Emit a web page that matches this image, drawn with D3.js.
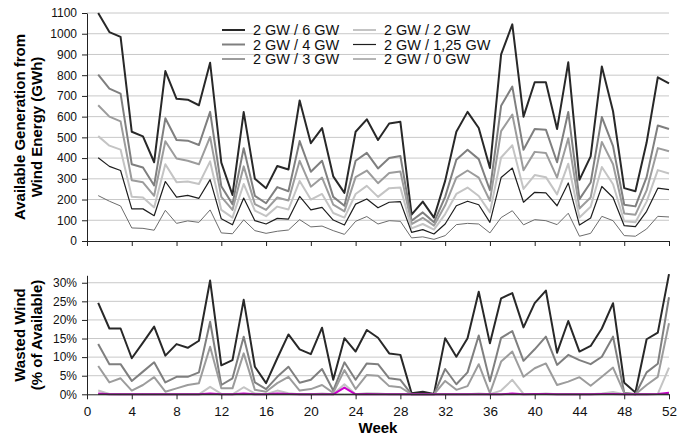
<!DOCTYPE html>
<html>
<head>
<meta charset="utf-8">
<script src="https://cdn.jsdelivr.net/npm/d3@7"></script>
<style>
  body { margin: 0; background: #fff; }
  text { font-family: "Liberation Sans", Arial, sans-serif; }
</style>
</head>
<body>
<svg id="chart" width="686" height="437"></svg>
<script>
// weeks 1..52
var weeks = [1,2,3,4,5,6,7,8,9,10,11,12,13,14,15,16,17,18,19,20,21,22,23,24,25,26,
             27,28,29,30,31,32,33,34,35,36,37,38,39,40,41,42,43,44,45,46,47,48,49,50,51,52];

// available generation (GWh)
var gen6   = [1100,1008,985,527,505,380,820,686,682,655,860,378,222,622,300,255,362,345,678,472,545,312,232,527,587,487,
              567,575,127,190,113,290,527,623,545,352,900,1045,600,766,766,540,862,295,408,842,626,255,240,475,790,760];
var gen4   = [803,735,711,370,355,268,592,487,484,463,623,264,178,448,218,182,260,240,482,334,387,213,170,387,425,350,
              400,410,98,138,90,213,392,440,395,245,652,745,440,540,537,380,622,202,282,598,458,175,167,308,557,540];
var gen3   = [655,600,577,293,283,218,481,398,387,370,502,213,150,360,178,150,210,195,387,262,306,175,143,308,340,279,
              328,335,82,112,74,172,306,340,306,194,530,610,341,430,425,306,496,157,210,478,370,133,127,244,448,433];
var gen2   = [506,460,441,213,210,162,370,284,287,275,384,150,113,275,147,120,166,152,290,200,227,135,113,227,266,213,
              255,258,61,82,55,130,227,258,217,138,403,462,251,318,308,225,373,113,165,357,274,95,90,190,342,326];
var gen125 = [402,360,340,155,155,122,287,212,220,206,296,107,78,207,98,82,109,106,215,150,162,101,77,178,203,160,
              187,190,42,55,34,82,170,192,175,90,306,352,187,235,232,170,280,77,111,263,210,74,69,143,255,248];
var gen0   = [219,192,169,63,61,52,148,85,97,90,150,39,35,102,50,37,47,53,103,68,72,50,32,95,118,82,
              98,95,15,20,8,26,79,85,82,39,113,146,78,103,98,79,134,23,37,119,98,26,23,58,119,116];

// wasted wind (% of available)
var waste6   = [24.6,17.7,17.7,9.7,13.9,18.2,10.4,13.5,12.5,14.4,30.6,7.8,9.2,25.4,7.4,3.0,9.7,16.1,12.1,10.8,17.9,3.9,15.1,11.5,17.3,15.2,
                11.0,10.6,0.3,0.7,0.1,15.1,10.1,15.1,27.6,13.7,25.8,27.2,18.0,24.5,27.9,11.2,19.7,11.5,13.0,17.7,24.5,3.1,0.5,14.8,16.6,32.3];
var waste4   = [13.5,8.1,8.1,3.6,6.1,8.6,3.2,4.7,4.7,5.9,19.5,2.5,4.3,15.5,3.2,1.4,4.7,7.4,3.1,3.9,6.8,1.0,8.6,3.9,8.3,8.1,
                4.3,3.9,0,0,0,6.8,2.7,5.9,15.8,3.5,15.2,17.0,9.0,12.1,15.5,7.9,10.6,9.2,8.1,10.1,15.5,0.4,0,5.9,8.2,26.1];
var waste3   = [7.6,3.2,4.3,1.0,2.5,4.6,0.7,1.6,2.5,3.0,12.8,1.6,1.6,11.0,1.2,0.7,3.0,4.7,1.0,1.4,2.5,0.4,6.5,1.4,5.2,5.0,
                2.2,1.9,0,0,0,3.6,1.2,2.2,8.1,0.3,8.8,11.5,4.7,7.0,8.3,2.5,3.4,4.6,2.3,4.7,7.2,0.3,0,2.5,4.7,19.1];
var waste2   = [1.0,0.1,0,0,0,0,0,0,0,0,2.0,0.1,0,1.9,0.2,0,1.0,0.3,0,0,0.2,0,2.7,0,0.3,0.2,
                0,0,0,0,0,0.1,0,0,0.2,0,1.0,3.9,0.1,0,0.2,0,0.1,0,0,0.2,0.6,0,0,0,0.1,7.2];
var waste125 = [0.2,0,0,0,0,0,0,0,0,0,0.2,0,0,0.2,0,0,0.2,0.1,0,0,0,0,1.8,0,0.1,0,
                0,0,0,0,0,0,0,0,0,0,0,0.2,0,0.1,0.1,0,0,0,0,0.1,0.1,0,0,0,0.1,0.4];
var waste0   = [0,0,0,0,0,0,0,0,0,0,0,0,0,0,0,0,0,0,0,0,0,0,0,0,0,0,
                0,0,0,0,0,0,0,0,0,0,0,0,0,0,0,0,0,0,0,0,0,0,0,0,0,0];

var labels   = ["2 GW / 6 GW","2 GW / 4 GW","2 GW / 3 GW","2 GW / 2 GW","2 GW / 1,25 GW","2 GW / 0 GW"];
var topTicks = [0,100,200,300,400,500,600,700,800,900,1000,1100];
var botTicks = [0,5,10,15,20,25,30];
var weekTicks = [0,4,8,12,16,20,24,28,32,36,40,44,48,52];

var svg = d3.select("#chart");

var colors  = ["#282828","#7f7f7f","#9c9c9c","#c4c4c4","#1e1e1e","#6c6c6c"];
var widths  = [2,2,2,2,1.2,1];
var botColors = ["#282828","#7f7f7f","#9c9c9c","#c4c4c4","#cc00cc","#333333"];

var x = d3.scaleLinear().domain([0,52]).range([87,669]);
var yTop = d3.scaleLinear().domain([0,1100]).range([241,13]);
var yBot = d3.scaleLinear().domain([0,32]).range([394.3,275.3]);

// grid lines
svg.append("g").selectAll("line").data(topTicks.slice(1)).join("line")
   .attr("x1",x(0)).attr("x2",x(52)).attr("y1",d=>yTop(d)).attr("y2",d=>yTop(d))
   .style("stroke","#c8c8c8").style("stroke-width",1);
svg.append("g").selectAll("line").data(botTicks.slice(1)).join("line")
   .attr("x1",x(0)).attr("x2",x(52)).attr("y1",d=>yBot(d)).attr("y2",d=>yBot(d))
   .style("stroke","#c8c8c8").style("stroke-width",1);

// series
var line = function(ys){ return d3.line().x((d,i)=>x(weeks[i])).y(d=>ys(d)); };
var topSeries = [gen6,gen4,gen3,gen2,gen125,gen0];
var botSeries = [waste6,waste4,waste3,waste2,waste125,waste0];

topSeries.forEach(function(s,k){
  svg.append("path").datum(s).attr("d",line(yTop))
     .style("fill","none").style("stroke",colors[k]).style("stroke-width",widths[k])
     .style("stroke-linejoin","round");
});

// axes
function styleAxis(g, fs) {
  g.select(".domain").style("stroke","#222");
  g.selectAll(".tick line").style("stroke","#222");
  g.selectAll("text").style("font-size",fs).style("fill","#111")
   .style("font-family","'Liberation Sans', Arial, sans-serif");
}
var gy1 = svg.append("g").attr("transform","translate("+x(0)+",0)")
   .call(d3.axisLeft(yTop).tickValues(topTicks).tickSize(5).tickPadding(5).tickSizeOuter(0)
   .tickFormat(d3.format("d")));
styleAxis(gy1,"12px");
var gx1 = svg.append("g").attr("transform","translate(0,"+yTop(0)+")")
   .call(d3.axisBottom(x).tickValues(weekTicks).tickSize(5).tickSizeOuter(0).tickFormat(""));
styleAxis(gx1,"12px");

botSeries.forEach(function(s,k){
  svg.append("path").datum(s).attr("d",line(yBot))
     .style("fill","none").style("stroke",botColors[k]).style("stroke-width",k==5 ? 1 : 2)
     .style("stroke-linejoin","round");
});

var gy2 = svg.append("g").attr("transform","translate("+x(0)+",0)")
   .call(d3.axisLeft(yBot).tickValues(botTicks).tickSize(5).tickPadding(5).tickSizeOuter(0)
   .tickFormat(d=>d+"%"));
styleAxis(gy2,"12px");
var gx2 = svg.append("g").attr("transform","translate(0,"+yBot(0)+")")
   .call(d3.axisBottom(x).tickValues(weekTicks).tickSize(5).tickPadding(7).tickSizeOuter(0));
styleAxis(gx2,"13.5px");
// redraw zero line on top
svg.append("path").datum(waste0).attr("d",line(yBot))
   .style("fill","none").style("stroke","#333").style("stroke-width",1);

// axis titles
svg.append("text").attr("x",378).attr("y",433).text("Week")
   .style("font-size","15px").style("font-weight","bold").style("text-anchor","middle");

function yTitle(lines, cx, cy) {
  lines.forEach(function(t,i){
    svg.append("text")
       .attr("transform","translate("+(cx[i])+","+cy+") rotate(-90)")
       .text(t).style("font-size","15px").style("font-weight","bold")
       .style("text-anchor","middle");
  });
}
yTitle(["Available Generation from","Wind Energy (GWh)"],[25,42],127);
yTitle(["Wasted Wind","(% of Available)"],[25,42],335);

// legend
var legX = [222,353], legY = [30,44.5,59];
labels.forEach(function(t,i){
  var col = Math.floor(i/3), row = i%3;
  svg.append("line").attr("x1",legX[col]).attr("x2",legX[col]+23)
     .attr("y1",legY[row]).attr("y2",legY[row])
     .style("stroke",colors[i]).style("stroke-width",widths[i]);
  svg.append("text").attr("x",legX[col]+31).attr("y",legY[row]+5).text(t)
     .style("font-size","14.5px").style("fill","#111");
});
</script>
</body>
</html>
